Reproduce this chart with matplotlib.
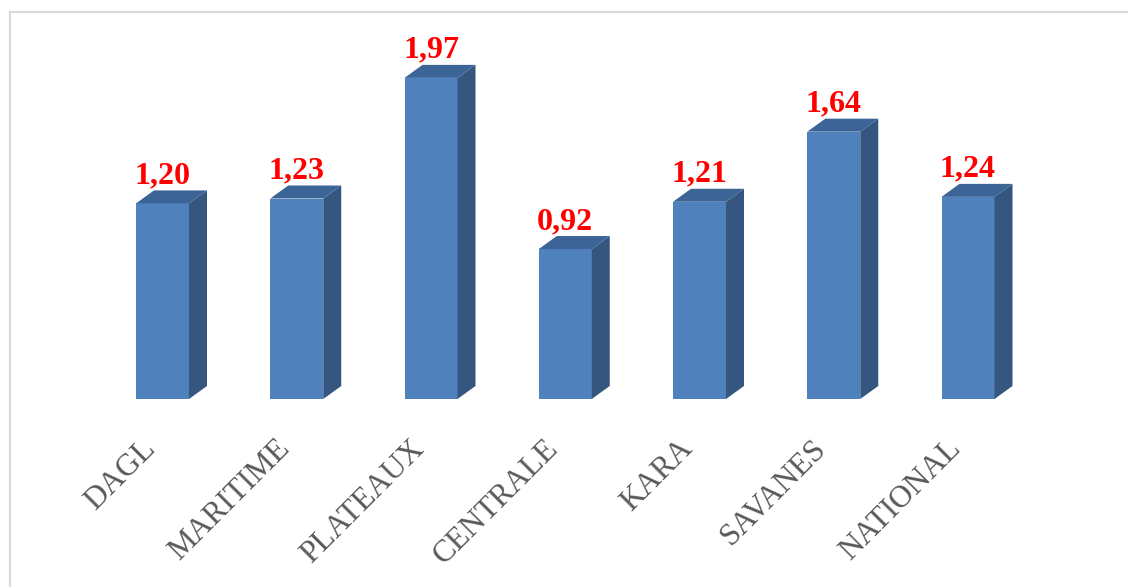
import matplotlib
matplotlib.use("Agg")
import matplotlib.pyplot as plt
from matplotlib.patches import Polygon
from matplotlib.lines import Line2D
import matplotlib.transforms as mtransforms

categories = ["DAGL", "MARITIME", "PLATEAUX", "CENTRALE", "KARA", "SAVANES", "NATIONAL"]
values = [1.20, 1.23, 1.97, 0.92, 1.21, 1.64, 1.24]
value_labels = ["1,20", "1,23", "1,97", "0,92", "1,21", "1,64", "1,24"]

W, H = 1128, 587
fig = plt.figure(figsize=(W / 100, H / 100), dpi=100)
fig.patch.set_facecolor("white")

# border lines (top and left)
fig.add_artist(Line2D([10 / W, 1.0], [1 - 12 / H, 1 - 12 / H], color="#d9d9d9", lw=1.5, transform=fig.transFigure))
fig.add_artist(Line2D([10 / W, 10 / W], [0, 1 - 12 / H], color="#d9d9d9", lw=1.5, transform=fig.transFigure))

step = 134.25
x0 = 162.5
base = 399
scale = 163.0
left_px = x0 - step
ax = fig.add_axes([left_px / W, (H - base) / H, (8 * step) / W, (2.3 * scale) / H])
ax.set_xlim(-1, 7)
ax.set_ylim(0, 2.3)
ax.axis("off")

bw = 53 / step
dx = 18 / step
dy = 13 / scale
front = "#4f81bd"
side = "#34567f"
top = "#3d6497"

for i, v in enumerate(values):
    l, r = i - bw / 2, i + bw / 2
    ax.add_patch(Polygon([(l, 0), (r, 0), (r, v), (l, v)], closed=True, fc=front, ec="none"))
    ax.add_patch(Polygon([(r, 0), (r + dx, dy), (r + dx, v + dy), (r, v)], closed=True, fc=side, ec="none"))
    ax.add_patch(Polygon([(l, v), (r, v), (r + dx, v + dy), (l + dx, v + dy)], closed=True, fc=top, ec="none"))
    ax.text(i, v + dy + 7 / scale, value_labels[i], ha="center", va="baseline",
            color="#ff0000", fontsize=23, fontweight="bold", family="Liberation Serif")
    off = mtransforms.offset_copy(ax.transData, fig=fig, x=-1, y=-35, units="dots")
    ax.text(i, 0, categories[i], rotation=45, ha="right", va="top", transform=off,
            color="#595959", fontsize=22.5, family="Liberation Serif")

fig.savefig("out.png", dpi=100, facecolor="white")
